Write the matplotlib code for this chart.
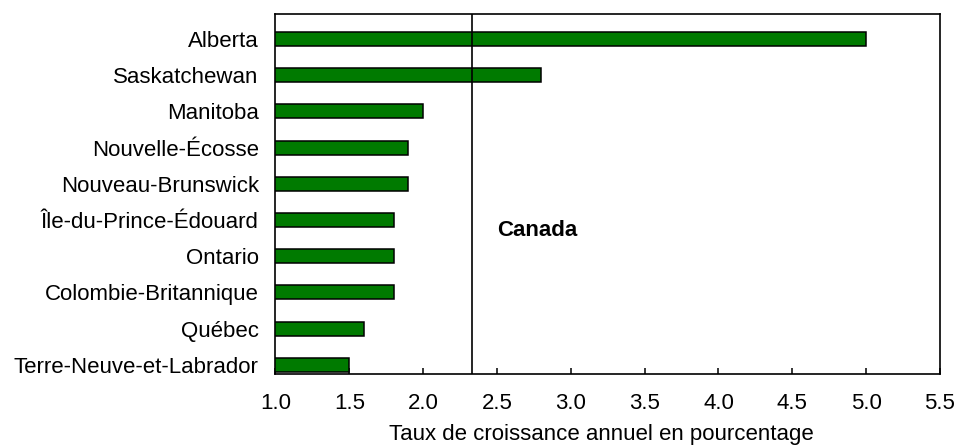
import matplotlib
matplotlib.use("Agg")
import matplotlib.pyplot as plt

# provinces, bottom to top
provinces = ["Terre-Neuve-et-Labrador", "Québec", "Colombie-Britannique", "Ontario",
             "Île-du-Prince-Édouard", "Nouveau-Brunswick", "Nouvelle-Écosse",
             "Manitoba", "Saskatchewan", "Alberta"]
growth = [1.5, 1.6, 1.8, 1.8, 1.8, 1.9, 1.9, 2.0, 2.8, 5.0]
canada = 2.33
xticks = [1.0, 1.5, 2.0, 2.5, 3.0, 3.5, 4.0, 4.5, 5.0, 5.5]

plt.rcParams['font.family'] = ['Liberation Sans', 'DejaVu Sans']
plt.rcParams['font.size'] = 16

fig = plt.figure(figsize=(9.58, 4.46), dpi=100)
ax = fig.add_axes([0.2875, 0.1617, 0.6937, 0.8069])

base = 1.0
ypos = list(range(len(provinces)))
ax.barh(ypos, [g - base for g in growth], left=base, height=0.39,
        color='#007a00', edgecolor='black', linewidth=1.1, zorder=3)
ax.axvline(canada, color='black', linewidth=1.2, zorder=4)
ax.text(2.5, 3.72, "Canada", fontweight='bold', va='center', ha='left')

ax.set_xlim(1.0, 5.5)
ax.set_ylim(-0.25, 9.69)
ax.set_xticks(xticks)
ax.set_xticklabels([f"{v:.1f}" for v in xticks])
ax.set_yticks(ypos)
ax.set_yticklabels(provinces)
ax.tick_params(axis='y', length=0, pad=12)
ax.tick_params(axis='x', direction='in', length=4, width=1.1, pad=14)
for s in ax.spines.values():
    s.set_linewidth(1.2)
ax.set_xlabel("Taux de croissance annuel en pourcentage")
ax.xaxis.set_label_coords(0.491, -0.183)
ax.xaxis.label.set_va('baseline')

fig.savefig("out.png", dpi=100)
